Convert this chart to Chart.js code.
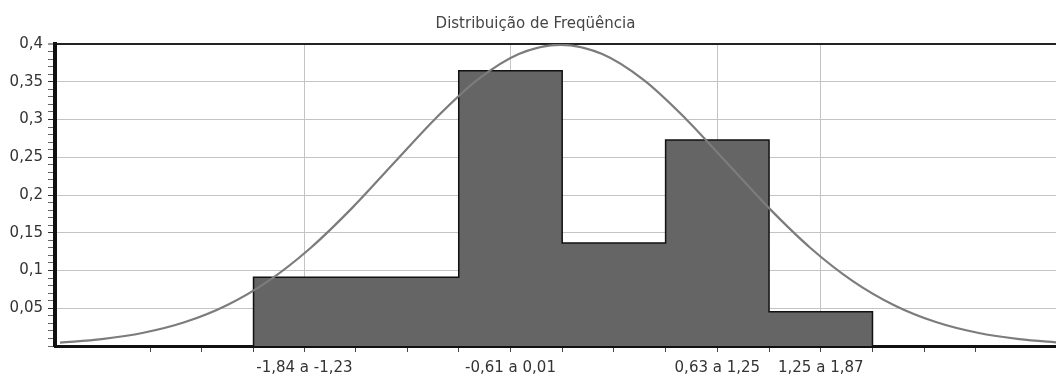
<!DOCTYPE html>
<html>
<head>
<meta charset="utf-8">
<script src="https://cdn.jsdelivr.net/npm/chart.js@4/dist/chart.umd.min.js"></script>
<style>
  body { margin: 0; background: #ffffff; }
  #wrap { width: 1056px; height: 376px; }
</style>
</head>
<body>
<div id="wrap"><canvas id="freqChart" width="1056" height="376"></canvas></div>
<script>
// classes (z values) and relative frequencies
var classLower = [-1.84, -1.23, -0.61, 0.01, 0.63, 1.25];
var classUpper = [-1.23, -0.61, 0.01, 0.63, 1.25, 1.87];
var classFreq  = [0.0909, 0.0909, 0.3645, 0.1364, 0.2727, 0.0455];

// normal curve
var curveX = [-3, -2.75, -2.5, -2.25, -2, -1.75, -1.5, -1.25, -1, -0.75, -0.5, -0.25, 0,
              0.25, 0.5, 0.75, 1, 1.25, 1.5, 1.75, 2, 2.25, 2.5, 2.75, 3];
var curveY = [0.0044, 0.0091, 0.0175, 0.0317, 0.054, 0.0863, 0.1295, 0.1826, 0.242, 0.3011, 0.3521, 0.3867, 0.3989,
              0.3867, 0.3521, 0.3011, 0.242, 0.1826, 0.1295, 0.0863, 0.054, 0.0317, 0.0175, 0.0091, 0.0044];

// x axis ticks and labels
var xTickValues = [-2.46, -2.15, -1.84, -1.535, -1.23, -0.92, -0.61, -0.30, 0.01, 0.32, 0.63, 0.94, 1.25, 1.56, 1.87, 2.18, 2.49];
var xTickLabels = ['', '', '', '-1,84 a -1,23', '', '', '', '-0,61 a 0,01', '', '', '', '0,63 a 1,25', '', '1,25 a 1,87', '', '', ''];

// y axis ticks and labels
var yTickValues = [0.05, 0.1, 0.15, 0.2, 0.25, 0.3, 0.35, 0.4];
var yTickLabels = ['0,05', '0,1', '0,15', '0,2', '0,25', '0,3', '0,35', '0,4'];

var titleText = 'Distribuição de Freqüência';

// build the step outline of the histogram
var histPts = [{x: classLower[0], y: 0}];
classLower.forEach(function(l, i){
  histPts.push({x: l, y: classFreq[i]});
});
histPts.push({x: classUpper[classUpper.length - 1], y: 0});

var curvePts = curveX.map(function(x, i){ return {x: x, y: curveY[i]}; });

function yLabelFor(v){
  for (var i = 0; i < yTickValues.length; i++) {
    if (Math.abs(yTickValues[i] - v) < 1e-6) return yTickLabels[i];
  }
  return '';
}

var font = "'DejaVu Sans', sans-serif";

// let the y labels use the space left of the scale box (no clipping)
var unclipY = {
  id: 'unclipY',
  afterLayout: function(chart){ chart.scales.y.left = 0; }
};

var chart = new Chart(document.getElementById('freqChart'), {
  type: 'line',
  data: {
    datasets: [
      {
        label: 'curva',
        data: curvePts,
        borderColor: '#7c7c7c',
        borderWidth: 2.2,
        pointRadius: 0,
        fill: false,
        cubicInterpolationMode: 'monotone',
        order: 0
      },
      {
        label: 'freq',
        data: histPts,
        stepped: 'before',
        borderColor: '#111111',
        borderWidth: 1.5,
        backgroundColor: '#656565',
        pointRadius: 0,
        fill: 'origin',
        order: 1
      }
    ]
  },
  plugins: [unclipY],
  options: {
    responsive: false,
    animation: false,
    layout: { padding: { left: 15, right: 0, top: 0, bottom: 0 } },
    plugins: {
      legend: { display: false },
      tooltip: { enabled: false },
      title: {
        display: true,
        text: titleText,
        color: '#444444',
        font: { family: font, size: 15, weight: 'normal' },
        padding: { top: 15, bottom: 11 }
      }
    },
    scales: {
      x: {
        type: 'linear',
        min: -3.03,
        max: 2.97,
        afterBuildTicks: function(scale){
          scale.ticks = xTickValues.map(function(v){ return {value: v}; });
        },
        afterFit: function(scale){ scale.height = 30; },
        border: { display: true, color: '#111111', width: 3 },
        grid: {
          color: function(ctx){
            var i = ctx.index;
            return (ctx.type === 'tick' && xTickLabels[i]) ? '#c4c4c4' : 'rgba(0,0,0,0)';
          },
          lineWidth: 1,
          tickColor: '#444444',
          tickWidth: 1,
          tickLength: 6,
          drawTicks: true
        },
        ticks: {
          autoSkip: false,
          maxRotation: 0,
          padding: 7,
          color: '#333333',
          font: { family: font, size: 15 },
          callback: function(v, i){ return xTickLabels[i]; }
        }
      },
      y: {
        type: 'linear',
        min: 0,
        max: 0.4,
        afterBuildTicks: function(scale){
          var t = [];
          for (var i = 0; i <= 40; i++) t.push({value: i / 100});
          scale.ticks = t;
        },
        afterFit: function(scale){ scale.width = 40; },
        border: { display: true, color: '#111111', width: 4 },
        grid: {
          color: function(ctx){
            if (ctx.type !== 'tick') return 'rgba(0,0,0,0)';
            var v = ctx.tick.value;
            if (Math.abs(v - 0.4) < 1e-6) return '#222222';
            return yLabelFor(v) ? '#c4c4c4' : 'rgba(0,0,0,0)';
          },
          lineWidth: function(ctx){
            if (ctx.type === 'tick' && Math.abs(ctx.tick.value - 0.4) < 1e-6) return 2;
            return 1;
          },
          tickColor: function(ctx){
            return (ctx.type === 'tick' && yLabelFor(ctx.tick.value)) ? '#333333' : '#666666';
          },
          tickWidth: 1,
          tickLength: 7,
          drawTicks: true
        },
        ticks: {
          autoSkip: false,
          padding: 5,
          color: '#333333',
          font: { family: font, size: 15 },
          callback: function(v){ return yLabelFor(v); }
        }
      }
    }
  }
});
</script>
</body>
</html>
